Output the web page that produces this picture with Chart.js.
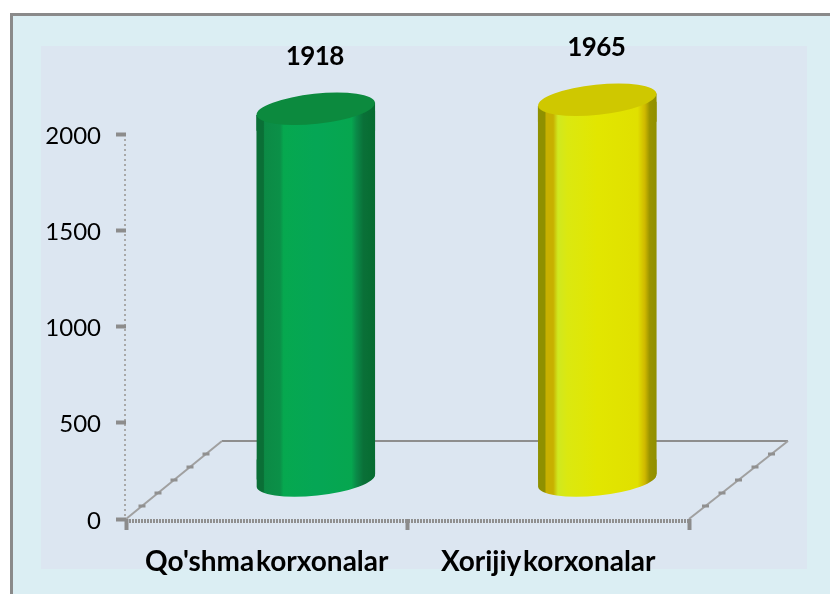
<!DOCTYPE html>
<html>
<head>
<meta charset="utf-8">
<style>html,body{margin:0;padding:0;background:#fff}canvas{display:block}</style>
<script src="https://cdn.jsdelivr.net/npm/chart.js@4"></script>
</head>
<body>
<div style="width:830px;height:594px"><canvas id="c" width="830" height="594"></canvas></div>
<script>
const categories = ["Qo'shma korxonalar", "Xorijiy korxonalar"];
const seriesValues = [1918, 1965];
const yTicks = [0, 500, 1000, 1500, 2000];
const sideStops = [
  [[0,'#0a6f36'],[0.06,'#0a6f36'],[0.07,'#0c8a45'],[0.2,'#0b9048'],[0.23,'#06a84f'],[0.5,'#05a655'],[0.8,'#06a64f'],[0.84,'#0a8a48'],[0.9,'#0a7038'],[1,'#066c30']],
  [[0,'#8f9000'],[0.06,'#8f9000'],[0.07,'#c8b000'],[0.13,'#c8b000'],[0.17,'#d0e820'],[0.25,'#dbe810'],[0.5,'#e2e600'],[0.84,'#e0e000'],[0.9,'#cfb800'],[0.94,'#9a9400'],[1,'#8f8f00']]
];
const capColors = ['#0c8a3e', '#cfc800'];
const DEPTH_X = 49, DEPTH_Y = -39;
const BAR_HALF = 59.5;
const TILT = -6 * Math.PI / 180;
const CAP_RY = 15;

function body(c, bar) {
  const rx = bar.width / 2;
  const dy = Math.sin(-TILT) * rx;
  const capY = bar.y - 2, baseY = bar.base + 1;
  c.moveTo(bar.x - rx, capY + dy);
  c.lineTo(bar.x + rx, capY - dy);
  c.lineTo(bar.x + rx, baseY - dy);
  c.ellipse(bar.x, baseY, rx, CAP_RY, TILT, 0, Math.PI);
  c.closePath();
}

const cylinderPlugin = {
  id: 'cylinder',
  beforeDraw(chart) {
    const c = chart.ctx;
    c.save();
    c.fillStyle = '#dbeef3'; c.fillRect(10, 13, 820, 581);
    c.fillStyle = '#dce6f1'; c.fillRect(41, 46, 766, 523);
    c.fillStyle = '#8a8a8a'; c.fillRect(10, 13, 820, 3); c.fillRect(10, 13, 3, 581);
    const {left, right, bottom} = chart.chartArea;
    const bx = 96, by = -78;
    c.strokeStyle = '#8e8e8e'; c.lineWidth = 2;
    c.beginPath(); c.moveTo(left + bx, bottom + by); c.lineTo(right + bx + 3, bottom + by); c.stroke();
    c.strokeStyle = '#a0a0a0'; c.lineWidth = 2;
    [left, right].forEach(x0 => {
      const X = x0 === right ? bx + 3 : bx;
      c.beginPath(); c.moveTo(x0, bottom); c.lineTo(x0 + X, bottom + by); c.stroke();
      c.fillStyle = '#909090';
      for (let k = 1; k <= 5; k++) {
        const px = x0 + X * k / 6, py = bottom + by * k / 6;
        c.fillRect(px - 3.5, py - 1.5, 7, 3);
      }
    });
    c.strokeStyle = '#a8a8a8'; c.lineWidth = 2; c.setLineDash([2, 3]);
    c.beginPath(); c.moveTo(left - 1, chart.chartArea.top); c.lineTo(left - 1, bottom); c.stroke();
    c.strokeStyle = '#909090'; c.lineWidth = 4; c.setLineDash([2, 1]);
    c.beginPath(); c.moveTo(left, bottom + 2); c.lineTo(right, bottom + 2); c.stroke();
    c.restore();
    c.wordSpacing = '-5px';
  },
  beforeDatasetsDraw(chart) {
    const c = chart.ctx;
    c.save();
    c.translate(DEPTH_X, DEPTH_Y);
    c.save();
    c.beginPath();
    chart.getDatasetMeta(0).data.forEach(bar => body(c, bar));
    c.clip();
  },
  afterDatasetsDraw(chart) {
    const c = chart.ctx;
    const meta = chart.getDatasetMeta(0);
    meta.data.forEach(bar => {
      c.fillStyle = bar.options.backgroundColor;
      c.fillRect(bar.x - bar.width / 2, bar.y - 40, bar.width, 60);
      c.fillRect(bar.x - bar.width / 2, bar.base - 20, bar.width, 60);
    });
    c.restore();
    meta.data.forEach((bar, i) => {
      c.fillStyle = capColors[i];
      c.beginPath(); c.ellipse(bar.x, bar.y - 2, bar.width / 2, CAP_RY, TILT, 0, Math.PI * 2); c.fill();
    });
    c.restore();
    c.save();
    c.fillStyle = '#000';
    c.font = 'bold 26px Lato';
    c.textAlign = 'center'; c.textBaseline = 'middle';
    c.letterSpacing = '-0.6px';
    meta.data.forEach((bar, i) => {
      c.fillText(String(seriesValues[i]), bar.x + DEPTH_X - 1, bar.y + DEPTH_Y - 54);
    });
    c.restore();
  }
};

new Chart(document.getElementById('c'), {
  type: 'bar',
  data: {
    labels: categories,
    datasets: [{
      data: seriesValues,
      clip: false,
      borderWidth: 0,
      barPercentage: 119 / 281.5,
      categoryPercentage: 1,
      backgroundColor(ctx) {
        const i = ctx.dataIndex;
        const sx = ctx.chart.scales.x;
        if (!sx || i === undefined) return '#888';
        const cx = sx.getPixelForValue(i);
        if (!isFinite(cx)) return '#888';
        const g = ctx.chart.ctx.createLinearGradient(cx - BAR_HALF, 0, cx + BAR_HALF, 0);
        sideStops[i].forEach(s => g.addColorStop(s[0], s[1]));
        return g;
      }
    }]
  },
  plugins: [cylinderPlugin],
  options: {
    responsive: false,
    animation: false,
    layout: {padding: {top: 134, right: 141, left: 0, bottom: 0}},
    plugins: {legend: {display: false}, title: {display: false}, tooltip: {enabled: false}},
    scales: {
      x: {
        type: 'category',
        offset: true,
        afterFit(s) { s.height = 75; },
        grid: {display: true, drawOnChartArea: false, drawTicks: true, tickLength: 11, tickWidth: 4, tickColor: '#8c8c8c'},
        border: {display: false},
        ticks: {color: '#000', font: {family: 'Lato', size: 28, weight: 'bold'}, padding: 15, maxRotation: 0, autoSkip: false}
      },
      y: {
        min: 0, max: 2000,
        afterFit(s) { s.width = 126; },
        afterBuildTicks(s) { s.ticks = yTicks.map(v => ({value: v})); },
        grid: {display: true, drawOnChartArea: false, drawTicks: true, tickLength: 10, tickWidth: 4, tickColor: '#8c8c8c'},
        border: {display: false},
        ticks: {color: '#000', font: {family: 'Lato', size: 24}, padding: 15, labelOffset: 2, callback: v => String(v)}
      }
    }
  }
});
</script>
</body>
</html>
